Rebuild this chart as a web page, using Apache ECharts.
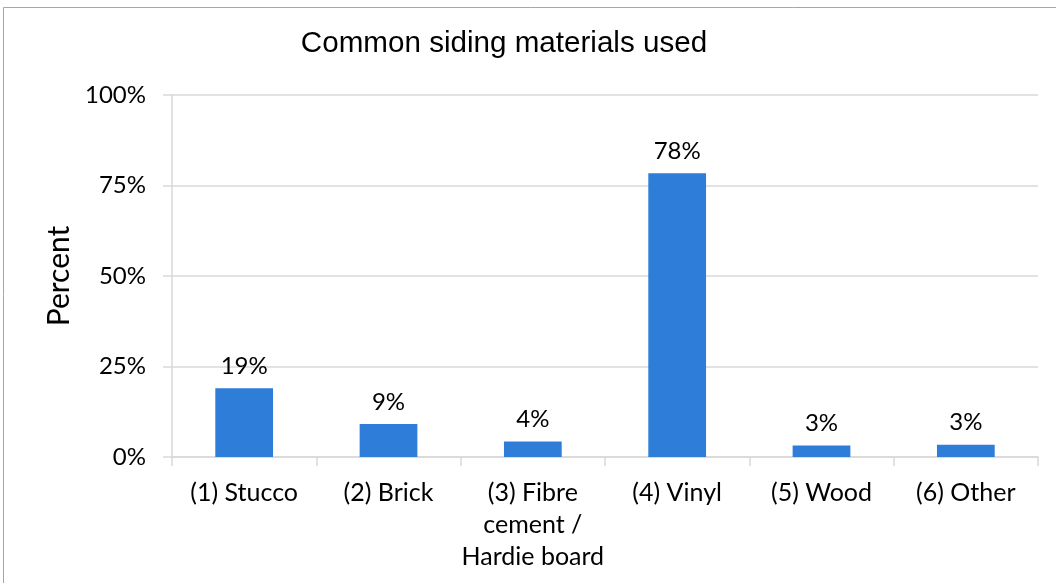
<!DOCTYPE html>
<html>
<head>
<meta charset="utf-8">
<script src="https://cdn.jsdelivr.net/npm/echarts@6/dist/echarts.min.js"></script>
<style>
  html, body { margin: 0; padding: 0; background: #fff; }
  #chart { width: 1056px; height: 583px; }
</style>
</head>
<body>
<div id="chart"></div>
<script>
// Survey results: share of homes by siding material
const categories = [
  '(1) Stucco',
  '(2) Brick',
  '(3) Fibre\ncement /\nHardie board',
  '(4) Vinyl',
  '(5) Wood',
  '(6) Other'
];
const percentValues = [19.0, 9.1, 4.3, 78.4, 3.2, 3.4];
const yTicks = { min: 0, max: 100, interval: 25 };

const textFont = 'Lato';
const gridColor = '#d9d9d9';
const barColor = '#2e7dd8';

const chart = echarts.init(document.getElementById('chart'), null, { renderer: 'canvas' });

chart.setOption({
  animation: false,
  backgroundColor: '#fff',
  title: {
    text: 'Common siding materials used',
    left: 499,
    top: 24,
    textAlign: 'center',
    textStyle: {
      fontFamily: 'Liberation Sans',
      fontSize: 29.6,
      fontWeight: 'normal',
      color: '#000'
    }
  },
  graphic: [{
    type: 'rect',
    shape: { x: 3.5, y: 7.5, width: 1060, height: 590 },
    style: { fill: 'none', stroke: '#a6a6a6', lineWidth: 1 },
    silent: true
  }],
  grid: { left: 172, right: 18, top: 95, bottom: 126 },
  xAxis: {
    type: 'category',
    data: categories,
    axisLine: { lineStyle: { color: gridColor, width: 1.5 } },
    axisTick: { show: true, length: 9, lineStyle: { color: gridColor, width: 1.5 } },
    axisLabel: {
      interval: 0,
      margin: 20,
      fontFamily: textFont,
      fontSize: 25,
      lineHeight: 32,
      color: '#000'
    }
  },
  yAxis: {
    type: 'value',
    min: yTicks.min,
    max: yTicks.max,
    interval: yTicks.interval,
    name: 'Percent',
    nameLocation: 'middle',
    nameGap: 96,
    nameTextStyle: { fontFamily: textFont, fontSize: 30, color: '#000' },
    axisLine: { show: true, lineStyle: { color: gridColor, width: 1.5 } },
    axisTick: { show: true, length: 9, lineStyle: { color: gridColor, width: 1.5 } },
    splitLine: { lineStyle: { color: gridColor, width: 1.5 } },
    axisLabel: {
      margin: 26,
      formatter: '{value}%',
      fontFamily: textFont,
      fontSize: 24,
      color: '#000'
    }
  },
  series: [{
    type: 'bar',
    data: percentValues,
    barWidth: '40%',
    itemStyle: { color: barColor },
    label: {
      show: true,
      position: 'top',
      distance: 10,
      formatter: p => Math.round(p.value) + '%',
      fontFamily: textFont,
      fontSize: 24,
      color: '#000'
    }
  }]
});
</script>
</body>
</html>
